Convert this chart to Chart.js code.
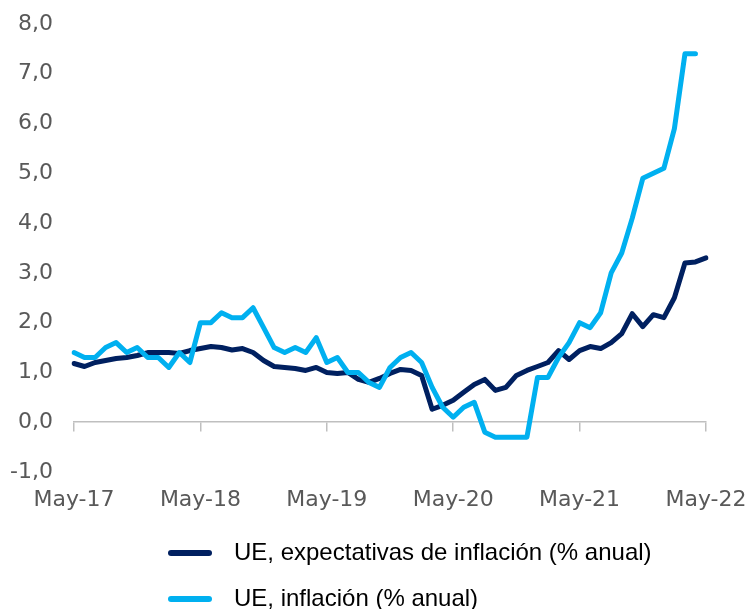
<!DOCTYPE html>
<html lang="es">
<head>
<meta charset="utf-8">
<title>UE: inflación y expectativas de inflación</title>
<script src="https://cdn.jsdelivr.net/npm/chart.js@4.4.1/dist/chart.umd.min.js"></script>
<style>
    html, body { margin: 0; padding: 0; background: #fff; }
    .chart-box { width: 749px; height: 610px; }
</style>
</head>
<body>
<div class="chart-box"><canvas id="inflacionChart"></canvas></div>
<script>
// Meses (mensual, may-17 a may-22)
const meses = [
    'May-17', 'Jun-17', 'Jul-17', 'Ago-17', 'Sep-17', 'Oct-17', 'Nov-17', 'Dic-17',
    'Ene-18', 'Feb-18', 'Mar-18', 'Abr-18', 'May-18', 'Jun-18', 'Jul-18', 'Ago-18', 'Sep-18', 'Oct-18', 'Nov-18', 'Dic-18',
    'Ene-19', 'Feb-19', 'Mar-19', 'Abr-19', 'May-19', 'Jun-19', 'Jul-19', 'Ago-19', 'Sep-19', 'Oct-19', 'Nov-19', 'Dic-19',
    'Ene-20', 'Feb-20', 'Mar-20', 'Abr-20', 'May-20', 'Jun-20', 'Jul-20', 'Ago-20', 'Sep-20', 'Oct-20', 'Nov-20', 'Dic-20',
    'Ene-21', 'Feb-21', 'Mar-21', 'Abr-21', 'May-21', 'Jun-21', 'Jul-21', 'Ago-21', 'Sep-21', 'Oct-21', 'Nov-21', 'Dic-21',
    'Ene-22', 'Feb-22', 'Mar-22', 'Abr-22', 'May-22'
];

// UE, expectativas de inflación (% anual)
const expectativas = [
    1.18, 1.12, 1.2, 1.24, 1.28, 1.3, 1.34, 1.4, 1.4, 1.4, 1.38, 1.44,
    1.48, 1.52, 1.5, 1.45, 1.48, 1.4, 1.24, 1.12, 1.1, 1.08, 1.04, 1.1,
    1.0, 0.98, 1.0, 0.86, 0.8, 0.88, 0.98, 1.06, 1.04, 0.94, 0.26, 0.34,
    0.44, 0.6, 0.76, 0.86, 0.64, 0.7, 0.94, 1.04, 1.12, 1.2, 1.44, 1.26,
    1.44, 1.52, 1.48, 1.6, 1.78, 2.18, 1.92, 2.16, 2.1, 2.5, 3.2, 3.22,
    3.3
];

// UE, inflación (% anual)
const inflacion = [
    1.4, 1.3, 1.3, 1.5, 1.6, 1.4, 1.5, 1.3, 1.3, 1.1, 1.4, 1.2,
    2.0, 2.0, 2.2, 2.1, 2.1, 2.3, 1.9, 1.5, 1.4, 1.5, 1.4, 1.7,
    1.2, 1.3, 1.0, 1.0, 0.8, 0.7, 1.1, 1.3, 1.4, 1.2, 0.7, 0.3,
    0.1, 0.3, 0.4, -0.2, -0.3, -0.3, -0.3, -0.3, 0.9, 0.9, 1.3, 1.6,
    2.0, 1.9, 2.2, 3.0, 3.4, 4.1, 4.9, 5.0, 5.1, 5.9, 7.4, 7.4,
    null
];

const ejeY = { min: -1, max: 8, paso: 1 };

const AZUL_OSCURO = '#002060';
const AZUL_CLARO = '#00b0f0';
const GRIS_EJE = '#bfbfbf';
const GRIS_TEXTO = '#595959';
const FUENTE = "'Liberation Sans', Arial, sans-serif";
const FUENTE_EJES = "'DejaVu Sans', sans-serif";

// marcador de leyenda: línea gruesa con hueco a la derecha
function marcadorLinea(color) {
    const c = document.createElement('canvas');
    c.width = 54; c.height = 8;
    const g = c.getContext('2d');
    g.strokeStyle = color;
    g.lineWidth = 6;
    g.lineCap = 'round';
    g.beginPath();
    g.moveTo(3, 4);
    g.lineTo(41, 4);
    g.stroke();
    return c;
}

// coloca la leyenda como en el original (columna, alineada a la izquierda)
const leyendaPos = {
    id: 'leyendaPos',
    afterLayout(chart) {
        const lg = chart.legend;
        if (!lg) return;
        const pad = lg.options.labels.padding;
        lg.left = 168 - pad;
        const alto = lg.bottom - lg.top;
        lg.top = 553 - pad - lg.options.labels.font.size / 2;
        lg.bottom = lg.top + alto;
    }
};

const ctx = document.getElementById('inflacionChart').getContext('2d');
new Chart(ctx, {
    type: 'line',
    data: {
        labels: meses,
        datasets: [
            {
                label: 'UE, expectativas de inflación (% anual)',
                data: expectativas,
                borderColor: AZUL_OSCURO,
                backgroundColor: AZUL_OSCURO,
                borderWidth: 5,
                pointRadius: 0,
                tension: 0,
                borderJoinStyle: 'round',
                borderCapStyle: 'round',
                order: 1
            },
            {
                label: 'UE, inflación (% anual)',
                data: inflacion,
                borderColor: AZUL_CLARO,
                backgroundColor: AZUL_CLARO,
                borderWidth: 5,
                pointRadius: 0,
                tension: 0,
                borderJoinStyle: 'round',
                borderCapStyle: 'round',
                order: 0
            }
        ]
    },
    options: {
        responsive: true,
        maintainAspectRatio: false,
        animation: false,
        layout: { padding: { top: 24, right: 43, left: 0, bottom: 0 } },
        plugins: {
            tooltip: { enabled: false },
            legend: {
                position: 'bottom',
                align: 'start',
                maxHeight: 90,
                labels: {
                    font: { family: FUENTE, size: 24 },
                    color: '#000',
                    padding: 22,
                    usePointStyle: true,
                    pointStyleWidth: 54,
                    sort: (a, b) => a.datasetIndex - b.datasetIndex,
                    generateLabels(chart) {
                        const items = Chart.defaults.plugins.legend.labels.generateLabels(chart);
                        items.forEach(it => {
                            it.pointStyle = marcadorLinea(chart.data.datasets[it.datasetIndex].borderColor);
                        });
                        return items;
                    }
                }
            }
        },
        scales: {
            // eje horizontal en el 0 (línea y marcas anuales)
            x: {
                type: 'category',
                position: { y: 0 },
                ticks: { display: false, autoSkip: false },
                grid: {
                    drawOnChartArea: false,
                    drawTicks: true,
                    tickLength: 9,
                    lineWidth: 1.5,
                    color: c => (c.index % 12 === 0 ? GRIS_EJE : 'rgba(0,0,0,0)')
                },
                border: { display: true, color: GRIS_EJE, width: 1.5 }
            },
            // etiquetas de los años, abajo
            x2: {
                type: 'category',
                labels: meses,
                position: 'bottom',
                grid: { display: false, drawTicks: false },
                border: { display: false },
                ticks: {
                    autoSkip: false,
                    maxRotation: 0,
                    padding: 15,
                    color: GRIS_TEXTO,
                    font: { family: FUENTE_EJES, size: 22 },
                    callback: (v, i) => (i % 12 === 0 ? meses[i] : '')
                },
                afterFit: s => { s.height = 48; s.paddingLeft = 0; s.paddingRight = 0; }
            },
            y: {
                min: ejeY.min,
                max: ejeY.max,
                grid: { display: false, drawTicks: false },
                border: { display: false },
                ticks: {
                    stepSize: ejeY.paso,
                    padding: 21,
                    color: GRIS_TEXTO,
                    font: { family: FUENTE_EJES, size: 22 },
                    callback: v => v.toFixed(1).replace('.', ',')
                },
                afterFit: s => { s.width = 74; s.paddingTop = 0; s.paddingBottom = 0; }
            }
        }
    },
    plugins: [leyendaPos]
});
</script>
</body>
</html>
